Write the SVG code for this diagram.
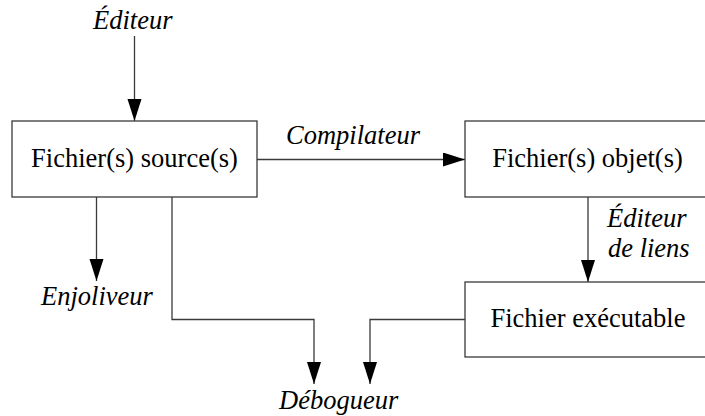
<svg xmlns="http://www.w3.org/2000/svg" width="705" height="416" viewBox="0 0 705 416">
<style>
.box{fill:#fff;stroke:#3a3a3a;stroke-width:1.3}
.ln{fill:none;stroke:#3a3a3a;stroke-width:1.3}
</style>
<defs>
<marker id="ah" markerUnits="userSpaceOnUse" markerWidth="24" markerHeight="16" refX="22" refY="7" orient="auto">
<path d="M0,0 L22,7 L0,14 Z" fill="#000"/>
</marker>
</defs>
<rect width="705" height="416" fill="#fff"/>
<g id="connectors">
<path class="ln" d="M134.5,36 V121" marker-end="url(#ah)"/>
<path class="ln" d="M257,159.5 H465" marker-end="url(#ah)"/>
<path class="ln" d="M588,197 V282" marker-end="url(#ah)"/>
<path class="ln" d="M96.5,197 V281" marker-end="url(#ah)"/>
<path class="ln" d="M172,197 V319.5 H314 V384" marker-end="url(#ah)"/>
<path class="ln" d="M465,319.5 H370 V384" marker-end="url(#ah)"/>
<text x="93" y="29" font-family="Liberation Serif" font-size="26.5" font-style="italic">Éditeur</text>
<text x="286" y="144" font-family="Liberation Serif" font-size="26.5" font-style="italic">Compilateur</text>
<text x="607" y="227" font-family="Liberation Serif" font-size="26.5" font-style="italic">Éditeur</text>
<text x="608" y="257" font-family="Liberation Serif" font-size="26.5" font-style="italic">de liens</text>
<text x="41" y="305" font-family="Liberation Serif" font-size="26.5" font-style="italic">Enjoliveur</text>
<text x="279" y="409" font-family="Liberation Serif" font-size="26.5" font-style="italic">Débogueur</text>
</g>
<g id="source">
<rect class="box" x="12" y="121" width="245" height="76"/>
<text x="134.5" y="167" text-anchor="middle" font-family="Liberation Serif" font-size="26.5">Fichier(s) source(s)</text>
</g>
<g id="objet">
<rect class="box" x="465" y="121" width="250" height="76"/>
<text x="587.5" y="167" text-anchor="middle" font-family="Liberation Serif" font-size="26.5">Fichier(s) objet(s)</text>
</g>
<g id="executable">
<rect class="box" x="465" y="282" width="250" height="75"/>
<text x="588" y="327" text-anchor="middle" font-family="Liberation Serif" font-size="26.5">Fichier exécutable</text>
</g>
</svg>
